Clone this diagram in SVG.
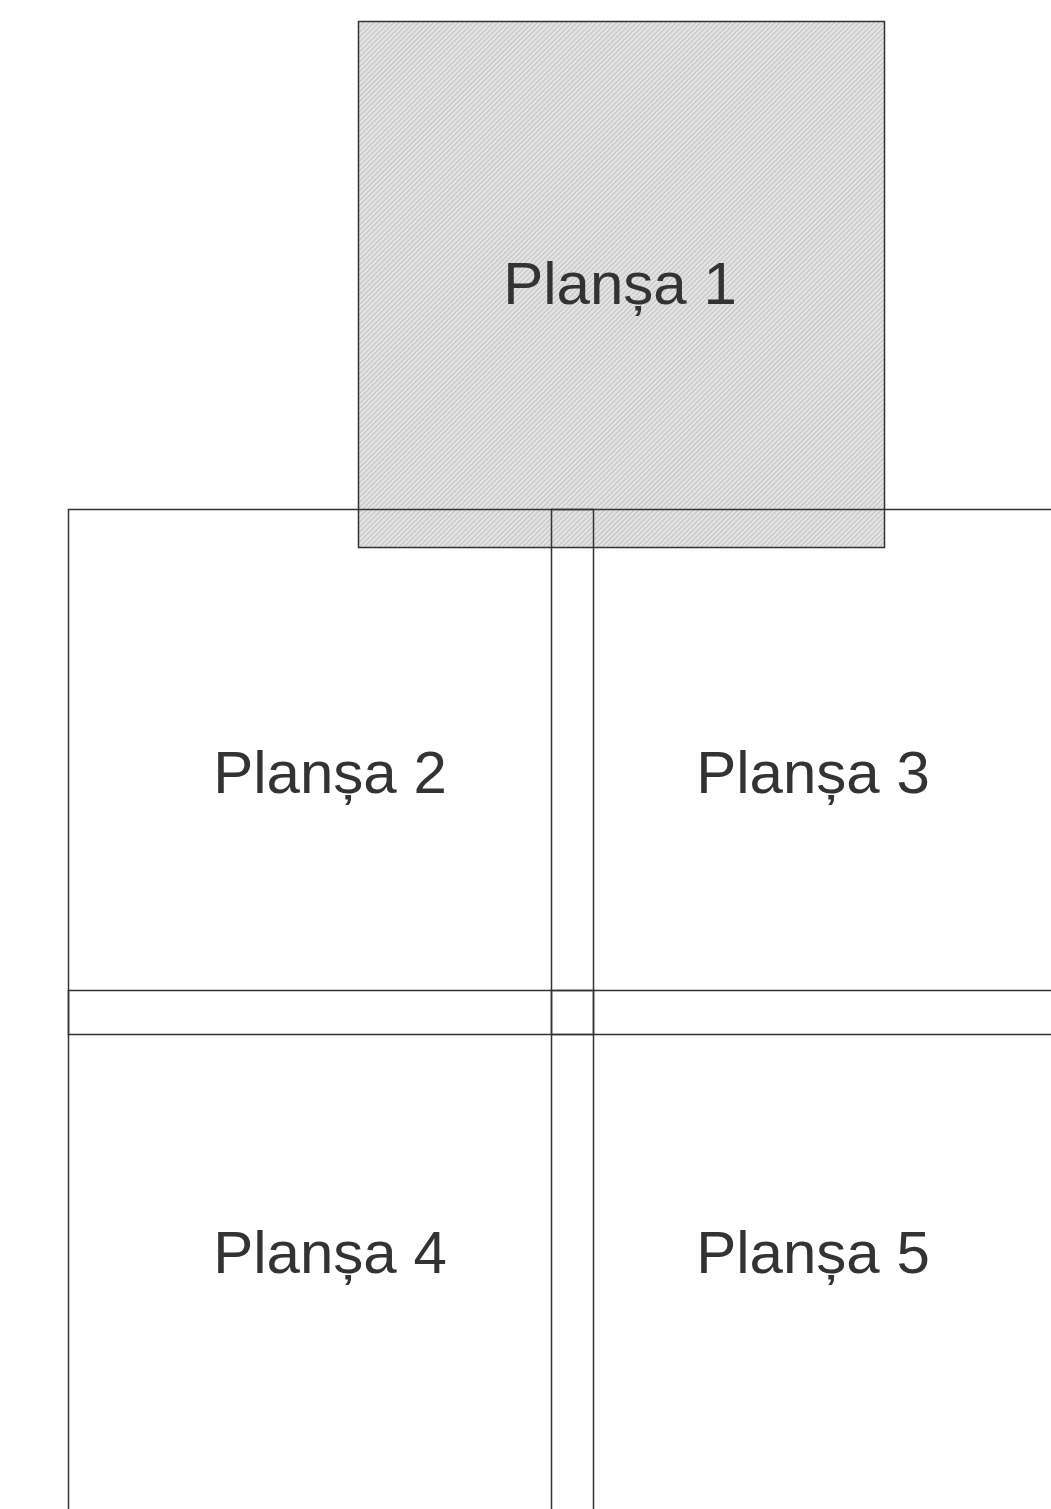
<svg xmlns="http://www.w3.org/2000/svg" width="1051" height="1509" viewBox="0 0 1051 1509">
<style>
.page{fill:none;stroke:#333;stroke-width:1.5}
.lbl{font-family:"Liberation Sans",Arial,sans-serif;font-size:60px;fill:#333;text-anchor:middle}
</style>
<defs>
<pattern id="hatch" width="3.5" height="3.5" patternUnits="userSpaceOnUse" patternTransform="rotate(45)">
<rect width="3.5" height="3.5" fill="#e2e2e2"/>
<line x1="0" y1="0" x2="0" y2="3.5" stroke="#aaa" stroke-width="1.1"/>
</pattern>
</defs>
<rect width="1051" height="1509" fill="#fff"/>
<g id="plansa1">
<rect x="358.5" y="21.5" width="526" height="526" fill="url(#hatch)" stroke="#333" stroke-width="1.5"/>
<text class="lbl" x="620" y="304">Planșa 1</text>
</g>
<g id="plansa2">
<rect class="page" x="68.5" y="509.5" width="525" height="525"/>
<text class="lbl" x="330" y="793">Planșa 2</text>
</g>
<g id="plansa3">
<rect class="page" x="551.5" y="509.5" width="525" height="525"/>
<text class="lbl" x="813" y="793">Planșa 3</text>
</g>
<g id="plansa4">
<rect class="page" x="68.5" y="990.5" width="525" height="525"/>
<text class="lbl" x="330" y="1273">Planșa 4</text>
</g>
<g id="plansa5">
<rect class="page" x="551.5" y="990.5" width="525" height="525"/>
<text class="lbl" x="813" y="1273">Planșa 5</text>
</g>
<g id="connectors"></g>
</svg>
